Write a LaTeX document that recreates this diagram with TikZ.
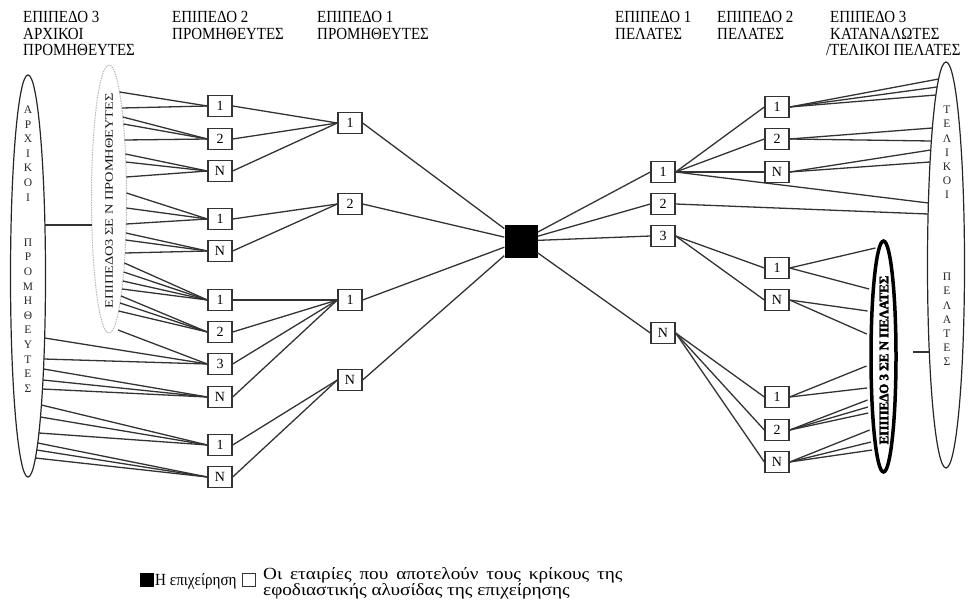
\documentclass[tikz,border=0pt]{standalone}
\usepackage{graphicx}
\usepackage{fontspec}
\setmainfont{Liberation Serif}
\newfontfamily\heavyfont{Liberation Serif}[FakeBold=2.5]
\usetikzlibrary{shapes.geometric}
\newcommand\hx[1]{\scalebox{0.88}[1]{#1}}
\begin{document}
\begin{tikzpicture}[x=1pt,y=-1pt,
  bx/.style={draw=black!80, line width=1.3pt, fill=white, minimum width=24pt, minimum height=21pt, inner sep=0pt, font=\fontsize{14}{14}\selectfont},
  ln/.style={draw=black!80, line width=1.3pt},
  hdr/.style={anchor=north west, align=left, inner sep=0pt, font=\fontsize{17}{16.3}\selectfont},
  vlet/.style={align=center, inner sep=0pt, font=\fontsize{11.5}{14.6}\selectfont, text=black!85},
  ell/.style={ellipse, inner sep=0pt}
]
\useasboundingbox (0,0) rectangle (969,605);

% headers
\node[hdr] (h1) at (23,11.5) {\hx{ΕΠΙΠΕΔΟ 3}\\\hx{ΑΡΧΙΚΟΙ}\\\hx{ΠΡΟΜΗΘΕΥΤΕΣ}};
\node[hdr] (h2) at (172,11.5) {\hx{ΕΠΙΠΕΔΟ 2}\\\hx{ΠΡΟΜΗΘΕΥΤΕΣ}};
\node[hdr] (h3) at (317,11.5) {\hx{ΕΠΙΠΕΔΟ 1}\\\hx{ΠΡΟΜΗΘΕΥΤΕΣ}};
\node[hdr] (h4) at (615,11.5) {\hx{ΕΠΙΠΕΔΟ 1}\\\hx{ΠΕΛΑΤΕΣ}};
\node[hdr] (h5) at (717,11.5) {\hx{ΕΠΙΠΕΔΟ 2}\\\hx{ΠΕΛΑΤΕΣ}};
\node[hdr] (h6) at (830,11.5) {\hx{ΕΠΙΠΕΔΟ 3}\\\hx{ΚΑΤΑΝΑΛΩΤΕΣ}\\\llap{\hx{/}}\hx{ΤΕΛΙΚΟΙ ΠΕΛΑΤΕΣ}};

% ellipses
\node[ell, draw=black!85, line width=1.2pt, minimum width=35pt, minimum height=402pt] (bigL) at (28,276) {};
\node[ell, draw=gray!55, dash pattern=on 1.5pt off 1pt, line width=1pt, minimum width=35pt, minimum height=268pt] (inL) at (109,199) {};
\node[rotate=90, text=gray!20!black, font=\fontsize{11.5}{12}\selectfont, inner sep=0pt] (inLt) at (109,201) {\scalebox{1.25}[1]{ΕΠΙΠΕΔΟ3 ΣΕ Ν ΠΡΟΜΗΘΕΥΤΕΣ}};
\node[ell, draw=black!85, line width=1.2pt, minimum width=37pt, minimum height=406pt] (bigR) at (946,265) {};
\node[ell, draw=black, line width=3.5pt, fill=white, minimum width=25pt, minimum height=231pt] (inR) at (883.5,356.5) {};
\node[rotate=90, font=\heavyfont\bfseries\fontsize{13}{13}\selectfont, inner sep=0pt] (inRt) at (884,360) {ΕΠΙΠΕΔΟ 3 ΣΕ Ν ΠΕΛΑΤΕΣ};

% vertical letters
\node[vlet] (vL1) at (28,153.5) {Α\\Ρ\\Χ\\Ι\\Κ\\Ο\\Ι};
\node[vlet] (vL2) at (28,315.5) {Π\\Ρ\\Ο\\Μ\\Η\\Θ\\Ε\\Υ\\Τ\\Ε\\Σ};
\node[vlet, font=\fontsize{11.5}{14.2}\selectfont] (vR1) at (947,152.5) {Τ\\Ε\\Λ\\Ι\\Κ\\Ο\\Ι};
\node[vlet, font=\fontsize{11.5}{14.2}\selectfont] (vR2) at (947,319.5) {Π\\Ε\\Λ\\Α\\Τ\\Ε\\Σ};

% boxes
\foreach \n/\y/\t in {a1/106/1, a2/139/2, a3/171/N, b1/219/1, b2/251/N, c1/300/1, c2/332/2, c3/364/3, c4/397/N, d1/445/1, d2/477/N}
  \node[bx] (\n) at (220,\y) {\t};
\foreach \n/\y/\t in {s1/123/1, s2/204/2, s3/300/1, s4/380/N}
  \node[bx] (\n) at (350,\y) {\t};
\node[fill=black, minimum size=33pt, inner sep=0pt] (firm) at (521,241) {};
\foreach \n/\y/\t in {r1/172/1, r2/204/2, r3/236/3, r4/333/N}
  \node[bx] (\n) at (663,\y) {\t};
\foreach \n/\y/\t in {t1/107/1, t2/139/2, t3/172/N, u1/268/1, u2/300/N, v1/397/1, v2/430/2, v3/462/N}
  \node[bx] (\n) at (777,\y) {\t};

% left connectors
\coordinate (cL1) at (45,225);
\coordinate (cL2) at (92,225);
\draw[ln] (cL1) -- (cL2);
\foreach \y/\t in {92/a1, 108/a1, 117/a2, 124/a2, 140/a2, 154/a3, 162/a3, 177/a3, 193/b1, 208/b1, 224/b1, 233/b2, 240/b2, 253/b2, 263/c1, 272/c1, 281/c1, 289/c1, 296/c2, 303/c2, 311/c2} {
  \pgfmathsetmacro\bx{109+17.5*sqrt(1-((\y-199)/134)^2)}
  \coordinate (p) at (\bx,\y);
  \draw[ln] (p) -- (\t.west);
}
\coordinate (q) at (118,330);
\draw[ln] (q) -- (c3.west);
\foreach \y/\t in {338/c3, 359/c3, 369/c4, 380/c4, 389/c4, 405/d1, 417/d1, 433/d1, 443/d2, 450/d2, 458/d2} {
  \pgfmathsetmacro\bx{28+17.5*sqrt(1-((\y-276)/201)^2)}
  \coordinate (p) at (\bx,\y);
  \draw[ln] (p) -- (\t.west);
}
\foreach \a/\b in {a1/s1, a2/s1, a3/s1, b1/s2, b2/s2, c1/s3, c2/s3, c3/s3, c4/s3, d1/s4, d2/s4}
  \draw[ln] (\a.east) -- (\b.west);
\foreach \a in {s1,s2,s3,s4}
  \draw[ln] (\a.east) -- (firm);

% right connectors
\foreach \a in {r1,r2,r3,r4}
  \draw[ln] (firm) -- (\a.west);
\foreach \a/\b in {r1/t1, r1/t2, r1/t3, r3/u1, r3/u2, r4/v1, r4/v2, r4/v3}
  \draw[ln] (\a.east) -- (\b.west);
\foreach \y/\t in {79/t1, 87/t1, 95/t1, 128/t2, 141/t2, 150/t3, 162/t3, 203/r1, 214/r2} {
  \pgfmathsetmacro\bx{946-18.5*sqrt(1-((\y-265)/203)^2)}
  \coordinate (p) at (\bx,\y);
  \draw[ln] (\t.east) -- (p);
}
\foreach \y/\t in {248/u1, 289/u1, 311/u2, 334/u2, 366/v1, 388/v1, 400/v2, 407/v2, 413/v2, 430/v3, 442/v3, 450/v3} {
  \pgfmathsetmacro\bx{883.5-14*sqrt(1-((\y-356.5)/116.5)^2)-3}
  \coordinate (p) at (\bx,\y);
  \draw[ln] (\t.east) -- (p);
}
\coordinate (cR1) at (913,352);
\coordinate (cR2) at (929.5,352);
\draw[ln] (cR1) -- (cR2);

% legend
\node[fill=black, minimum width=14pt, minimum height=14pt, inner sep=0pt] (lgA) at (146.5,579.5) {};
\node[anchor=base west, inner sep=0pt, font=\fontsize{17}{17}\selectfont] (lgAt) at (155,585) {\scalebox{0.89}[1]{Η επιχείρηση}};
\node[draw=black!80, line width=0.9pt, minimum width=13pt, minimum height=13pt, inner sep=0pt] (lgB) at (248.5,580) {};
\node[anchor=base west, inner sep=0pt, font=\fontsize{17}{17}\selectfont] (lgBt1) at (263,579) {\scalebox{1.13}[1]{\makebox[318pt][s]{Οι εταιρίες που αποτελούν τους κρίκους της}}};
\node[anchor=base west, inner sep=0pt, font=\fontsize{17}{17}\selectfont] (lgBt2) at (263,595) {\scalebox{1.13}[1]{εφοδιαστικής αλυσίδας της επιχείρησης}};
\end{tikzpicture}
\end{document}
